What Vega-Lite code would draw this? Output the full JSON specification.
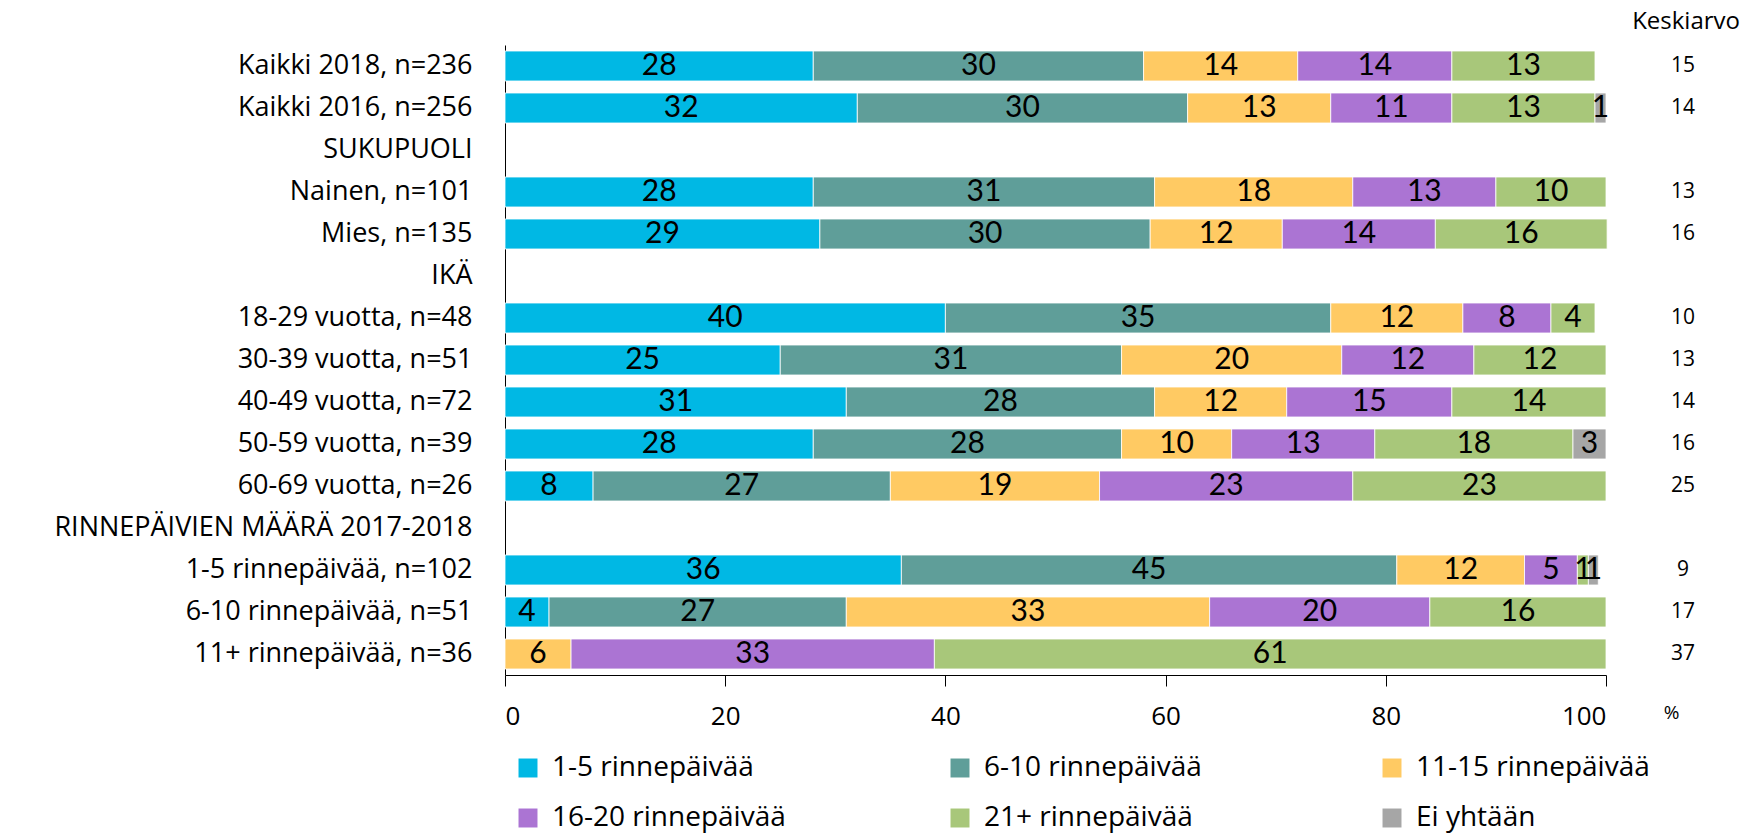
{
  "$schema": "https://vega.github.io/schema/vega-lite/v6.json",
  "autosize": "none",
  "width": 1101,
  "height": 630,
  "padding": {"left": 505, "top": 45, "right": 136, "bottom": 160},
  "background": "white",
  "title": {"text": "Keskiarvo", "anchor": "end", "frame": "group", "dx": 134, "offset": 11, "fontSize": 24, "fontWeight": "normal", "font": "Open Sans", "color": "black"},
  "config": {
    "font": "Open Sans",
    "view": {"stroke": null},
    "axis": {"grid": false}
  },
  "datasets": {
    "bars": [
      {"group": "Kaikki 2018, n=236", "cat": "1-5 rinnepäivää", "value": 28},
      {"group": "Kaikki 2018, n=236", "cat": "6-10 rinnepäivää", "value": 30},
      {"group": "Kaikki 2018, n=236", "cat": "11-15 rinnepäivää", "value": 14},
      {"group": "Kaikki 2018, n=236", "cat": "16-20 rinnepäivää", "value": 14},
      {"group": "Kaikki 2018, n=236", "cat": "21+ rinnepäivää", "value": 13},
      {"group": "Kaikki 2016, n=256", "cat": "1-5 rinnepäivää", "value": 32},
      {"group": "Kaikki 2016, n=256", "cat": "6-10 rinnepäivää", "value": 30},
      {"group": "Kaikki 2016, n=256", "cat": "11-15 rinnepäivää", "value": 13},
      {"group": "Kaikki 2016, n=256", "cat": "16-20 rinnepäivää", "value": 11},
      {"group": "Kaikki 2016, n=256", "cat": "21+ rinnepäivää", "value": 13},
      {"group": "Kaikki 2016, n=256", "cat": "Ei yhtään", "value": 1},
      {"group": "Nainen, n=101", "cat": "1-5 rinnepäivää", "value": 28},
      {"group": "Nainen, n=101", "cat": "6-10 rinnepäivää", "value": 31},
      {"group": "Nainen, n=101", "cat": "11-15 rinnepäivää", "value": 18},
      {"group": "Nainen, n=101", "cat": "16-20 rinnepäivää", "value": 13},
      {"group": "Nainen, n=101", "cat": "21+ rinnepäivää", "value": 10},
      {"group": "Mies, n=135", "cat": "1-5 rinnepäivää", "value": 28.6},
      {"group": "Mies, n=135", "cat": "6-10 rinnepäivää", "value": 30},
      {"group": "Mies, n=135", "cat": "11-15 rinnepäivää", "value": 12},
      {"group": "Mies, n=135", "cat": "16-20 rinnepäivää", "value": 13.9},
      {"group": "Mies, n=135", "cat": "21+ rinnepäivää", "value": 15.6},
      {"group": "18-29 vuotta, n=48", "cat": "1-5 rinnepäivää", "value": 40},
      {"group": "18-29 vuotta, n=48", "cat": "6-10 rinnepäivää", "value": 35},
      {"group": "18-29 vuotta, n=48", "cat": "11-15 rinnepäivää", "value": 12},
      {"group": "18-29 vuotta, n=48", "cat": "16-20 rinnepäivää", "value": 8},
      {"group": "18-29 vuotta, n=48", "cat": "21+ rinnepäivää", "value": 4},
      {"group": "30-39 vuotta, n=51", "cat": "1-5 rinnepäivää", "value": 25},
      {"group": "30-39 vuotta, n=51", "cat": "6-10 rinnepäivää", "value": 31},
      {"group": "30-39 vuotta, n=51", "cat": "11-15 rinnepäivää", "value": 20},
      {"group": "30-39 vuotta, n=51", "cat": "16-20 rinnepäivää", "value": 12},
      {"group": "30-39 vuotta, n=51", "cat": "21+ rinnepäivää", "value": 12},
      {"group": "40-49 vuotta, n=72", "cat": "1-5 rinnepäivää", "value": 31},
      {"group": "40-49 vuotta, n=72", "cat": "6-10 rinnepäivää", "value": 28},
      {"group": "40-49 vuotta, n=72", "cat": "11-15 rinnepäivää", "value": 12},
      {"group": "40-49 vuotta, n=72", "cat": "16-20 rinnepäivää", "value": 15},
      {"group": "40-49 vuotta, n=72", "cat": "21+ rinnepäivää", "value": 14},
      {"group": "50-59 vuotta, n=39", "cat": "1-5 rinnepäivää", "value": 28},
      {"group": "50-59 vuotta, n=39", "cat": "6-10 rinnepäivää", "value": 28},
      {"group": "50-59 vuotta, n=39", "cat": "11-15 rinnepäivää", "value": 10},
      {"group": "50-59 vuotta, n=39", "cat": "16-20 rinnepäivää", "value": 13},
      {"group": "50-59 vuotta, n=39", "cat": "21+ rinnepäivää", "value": 18},
      {"group": "50-59 vuotta, n=39", "cat": "Ei yhtään", "value": 3},
      {"group": "60-69 vuotta, n=26", "cat": "1-5 rinnepäivää", "value": 8},
      {"group": "60-69 vuotta, n=26", "cat": "6-10 rinnepäivää", "value": 27},
      {"group": "60-69 vuotta, n=26", "cat": "11-15 rinnepäivää", "value": 19},
      {"group": "60-69 vuotta, n=26", "cat": "16-20 rinnepäivää", "value": 23},
      {"group": "60-69 vuotta, n=26", "cat": "21+ rinnepäivää", "value": 23},
      {"group": "1-5 rinnepäivää, n=102", "cat": "1-5 rinnepäivää", "value": 36},
      {"group": "1-5 rinnepäivää, n=102", "cat": "6-10 rinnepäivää", "value": 45},
      {"group": "1-5 rinnepäivää, n=102", "cat": "11-15 rinnepäivää", "value": 11.6},
      {"group": "1-5 rinnepäivää, n=102", "cat": "16-20 rinnepäivää", "value": 4.8},
      {"group": "1-5 rinnepäivää, n=102", "cat": "21+ rinnepäivää", "value": 1},
      {"group": "1-5 rinnepäivää, n=102", "cat": "Ei yhtään", "value": 0.9},
      {"group": "6-10 rinnepäivää, n=51", "cat": "1-5 rinnepäivää", "value": 4},
      {"group": "6-10 rinnepäivää, n=51", "cat": "6-10 rinnepäivää", "value": 27},
      {"group": "6-10 rinnepäivää, n=51", "cat": "11-15 rinnepäivää", "value": 33},
      {"group": "6-10 rinnepäivää, n=51", "cat": "16-20 rinnepäivää", "value": 20},
      {"group": "6-10 rinnepäivää, n=51", "cat": "21+ rinnepäivää", "value": 16},
      {"group": "11+ rinnepäivää, n=36", "cat": "11-15 rinnepäivää", "value": 6},
      {"group": "11+ rinnepäivää, n=36", "cat": "16-20 rinnepäivää", "value": 33},
      {"group": "11+ rinnepäivää, n=36", "cat": "21+ rinnepäivää", "value": 61}
    ],
    "means": [
      {"group": "Kaikki 2018, n=236", "mean": 15},
      {"group": "Kaikki 2016, n=256", "mean": 14},
      {"group": "Nainen, n=101", "mean": 13},
      {"group": "Mies, n=135", "mean": 16},
      {"group": "18-29 vuotta, n=48", "mean": 10},
      {"group": "30-39 vuotta, n=51", "mean": 13},
      {"group": "40-49 vuotta, n=72", "mean": 14},
      {"group": "50-59 vuotta, n=39", "mean": 16},
      {"group": "60-69 vuotta, n=26", "mean": 25},
      {"group": "1-5 rinnepäivää, n=102", "mean": 9},
      {"group": "6-10 rinnepäivää, n=51", "mean": 17},
      {"group": "11+ rinnepäivää, n=36", "mean": 37}
    ]
  },
  "encoding": {
    "y": {
      "field": "group",
      "type": "nominal",
      "scale": {
        "domain": ["Kaikki 2018, n=236", "Kaikki 2016, n=256", "SUKUPUOLI", "Nainen, n=101", "Mies, n=135", "IKÄ", "18-29 vuotta, n=48", "30-39 vuotta, n=51", "40-49 vuotta, n=72", "50-59 vuotta, n=39", "60-69 vuotta, n=26", "RINNEPÄIVIEN MÄÄRÄ 2017-2018", "1-5 rinnepäivää, n=102", "6-10 rinnepäivää, n=51", "11+ rinnepäivää, n=36"],
        "paddingInner": 0.286,
        "paddingOuter": 0.143
      },
      "axis": {
        "title": null,
        "ticks": false,
        "domain": true,
        "domainColor": "black",
        "domainWidth": 1,
        "labelFontSize": 27,
        "labelColor": "black",
        "labelPadding": 33,
        "labelLimit": 600
      }
    }
  },
  "layer": [
    {
      "data": {"name": "bars"},
      "transform": [{"stack": "value", "groupby": ["group"], "as": ["x0", "x1"]}],
      "mark": {"type": "bar", "stroke": "white", "strokeWidth": 0.8},
      "encoding": {
        "x": {
          "field": "x0",
          "type": "quantitative",
          "scale": {"domain": [0, 100], "nice": false, "clamp": false},
          "axis": {
            "values": [0, 20, 40, 60, 80, 100],
            "domainColor": "black",
            "tickColor": "black",
            "tickSize": 11,
            "labelFontSize": 26,
            "labelColor": "black",
            "labelPadding": 17,
            "title": "%",
            "titleFontSize": 19,
            "titleFontWeight": "normal",
            "titleColor": "black",
            "titleX": 1166,
            "titleY": 37,
            "titleBaseline": "middle",
            "titleAlign": "center"
          }
        },
        "x2": {"field": "x1"},
        "color": {
          "field": "cat",
          "type": "nominal",
          "scale": {
            "domain": ["1-5 rinnepäivää", "6-10 rinnepäivää", "11-15 rinnepäivää", "16-20 rinnepäivää", "21+ rinnepäivää", "Ei yhtään"],
            "range": ["#00B8E4", "#5F9E99", "#FFCA63", "#AB74D3", "#A8C77A", "#A6A6A6"]
          },
          "legend": {
            "title": null,
            "orient": "none",
            "legendX": 9,
            "legendY": 709,
            "columns": 3,
            "direction": "horizontal",
            "gridAlign": "all",
            "columnPadding": 160,
            "rowPadding": 22,
            "symbolType": "square",
            "symbolSize": 360,
            "symbolStrokeWidth": 0,
            "labelFontSize": 28,
            "labelColor": "black",
            "labelOffset": 10,
            "labelLimit": 400
          }
        }
      }
    },
    {
      "data": {"name": "bars"},
      "transform": [
        {"stack": "value", "groupby": ["group"], "as": ["x0", "x1"]},
        {"fold": ["x0", "x1"], "as": ["edge", "pos"]},
        {"aggregate": [{"op": "mean", "field": "pos", "as": "mid"}], "groupby": ["group", "cat", "value"]}
      ],
      "mark": {"type": "text", "font": "Lato", "fontSize": 30, "color": "black", "baseline": "middle", "align": "center"},
      "encoding": {
        "x": {"field": "mid", "type": "quantitative"},
        "text": {"field": "value", "type": "quantitative", "format": ".0f"}
      }
    },
    {
      "data": {"name": "means"},
      "mark": {"type": "text", "fontSize": 21, "color": "black", "baseline": "middle", "align": "center"},
      "encoding": {
        "x": {"datum": 107, "type": "quantitative"},
        "text": {"field": "mean", "type": "quantitative"}
      }
    }
  ]
}
